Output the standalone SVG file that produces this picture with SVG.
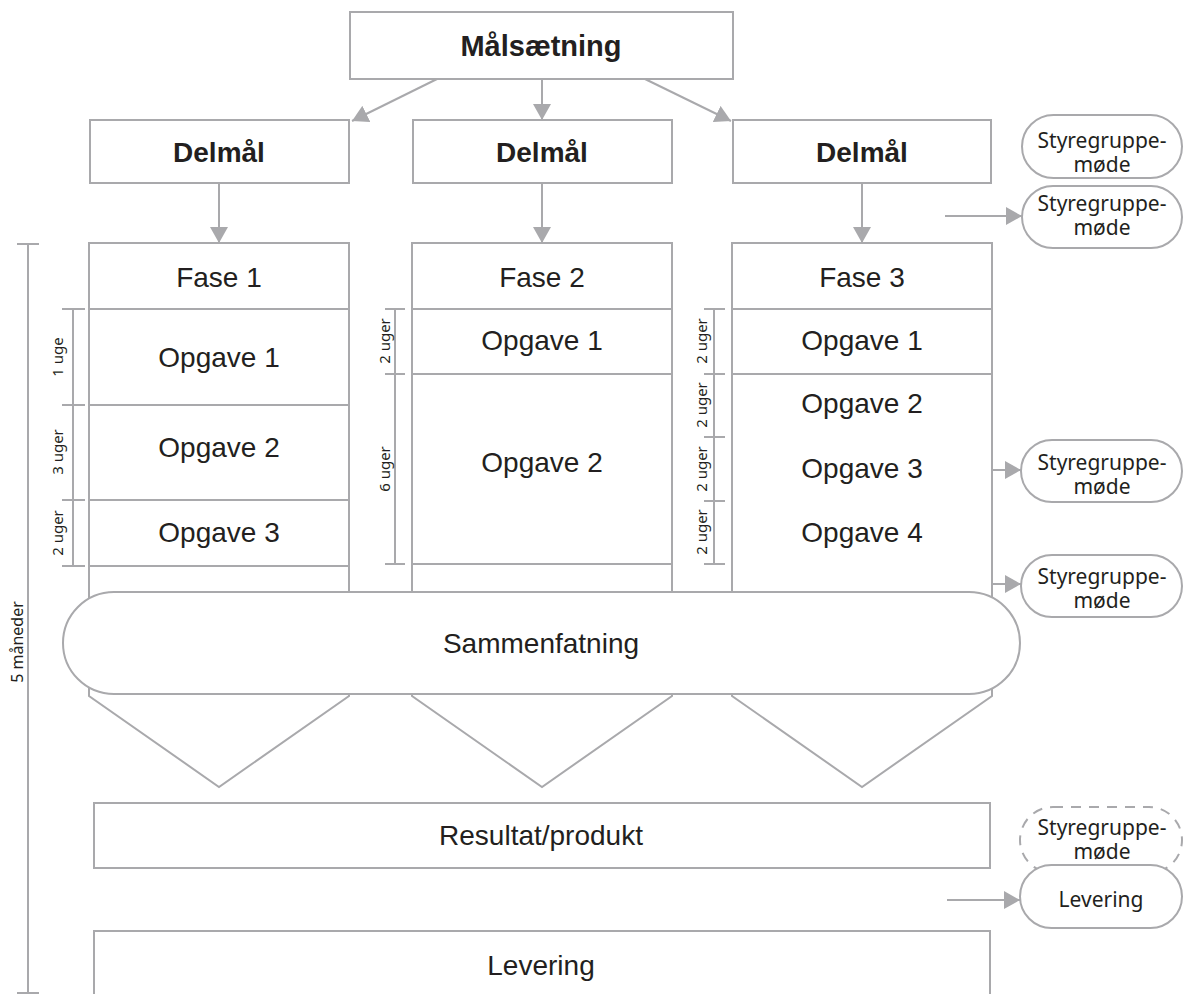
<svg xmlns="http://www.w3.org/2000/svg" width="1184" height="994" viewBox="0 0 1184 994">
  <style>
    .box { fill: #ffffff; stroke: #a9a9ac; stroke-width: 2; }
    .dash { fill: #ffffff; stroke: #a9a9ac; stroke-width: 2; stroke-dasharray: 10 8; }
    .ln { fill: none; stroke: #a9a9ac; stroke-width: 2; }
    .arr { fill: none; stroke: #a9a9ac; stroke-width: 2; marker-end: url(#head); }
    .t { font-family: "Liberation Sans", Arial, sans-serif; font-size: 28px; fill: #231f20; text-anchor: middle; }
    .b { font-weight: bold; }
    .s { font-family: "Noto Sans", "Open Sans", sans-serif; font-size: 21px; fill: #231f20; text-anchor: middle; }
    .d { font-family: "Noto Sans", "Open Sans", sans-serif; font-size: 15px; fill: #231f20; text-anchor: middle; }
  </style>
  <defs>
    <marker id="head" markerUnits="userSpaceOnUse" markerWidth="18" markerHeight="18" refX="16" refY="9" orient="auto">
      <path d="M0,0 L16,9 L0,18 Z" fill="#a9a9ac"/>
    </marker>
  </defs>
  <rect width="1184" height="994" fill="#ffffff"/>

  <!-- phase columns with funnel bottoms -->
  <g id="fase1">
    <path class="box" d="M89,243 H349 V696 L219,787 L89,696 Z"/>
    <path class="ln" d="M89,309 H349 M89,405 H349 M89,500 H349 M89,566 H349"/>
    <text class="t" x="219" y="287">Fase 1</text>
    <text class="t" x="219" y="367">Opgave 1</text>
    <text class="t" x="219" y="457">Opgave 2</text>
    <text class="t" x="219" y="542">Opgave 3</text>
  </g>
  <g id="fase2">
    <path class="box" d="M412,243 H672 V696 L542,787 L412,696 Z"/>
    <path class="ln" d="M412,309 H672 M412,374 H672 M412,564 H672"/>
    <text class="t" x="542" y="287">Fase 2</text>
    <text class="t" x="542" y="350">Opgave 1</text>
    <text class="t" x="542" y="472">Opgave 2</text>
  </g>
  <g id="fase3">
    <path class="box" d="M732,243 H992 V696 L862,787 L732,696 Z"/>
    <path class="ln" d="M732,309 H992 M732,374 H992"/>
    <text class="t" x="862" y="287">Fase 3</text>
    <text class="t" x="862" y="350">Opgave 1</text>
    <text class="t" x="862" y="413">Opgave 2</text>
    <text class="t" x="862" y="478">Opgave 3</text>
    <text class="t" x="862" y="542">Opgave 4</text>
  </g>

  <!-- duration scales -->
  <g id="dur-fase1">
    <path class="ln" d="M73,309 V566 M62,309 H85 M62,405 H85 M62,500 H85 M62,566 H85"/>
    <text class="d" transform="translate(63,357) rotate(-90)">1 uge</text>
    <text class="d" transform="translate(63,452) rotate(-90)">3 uger</text>
    <text class="d" transform="translate(63,533) rotate(-90)">2 uger</text>
  </g>
  <g id="dur-fase2">
    <path class="ln" d="M395,309 V564 M385,309 H405 M385,374 H405 M385,564 H405"/>
    <text class="d" transform="translate(390,341) rotate(-90)">2 uger</text>
    <text class="d" transform="translate(390,469) rotate(-90)">6 uger</text>
  </g>
  <g id="dur-fase3">
    <path class="ln" d="M714,309 V564 M704,309 H725 M704,374 H725 M704,437 H725 M704,501 H725 M704,564 H725"/>
    <text class="d" transform="translate(707,341) rotate(-90)">2 uger</text>
    <text class="d" transform="translate(707,405) rotate(-90)">2 uger</text>
    <text class="d" transform="translate(707,469) rotate(-90)">2 uger</text>
    <text class="d" transform="translate(707,532) rotate(-90)">2 uger</text>
  </g>
  <g id="dur-total">
    <path class="ln" d="M28,244 V993 M17,244 H39 M17,993 H39"/>
    <text class="d" style="font-size:16px" transform="translate(23,642) rotate(-90)">5 måneder</text>
  </g>

  <g id="maalsaetning">
    <rect class="box" x="350" y="12" width="383" height="67"/>
    <text class="t b" x="541" y="56" style="font-size:29px">Målsætning</text>
  </g>
  <g id="delmaal1">
    <rect class="box" x="90" y="120" width="259" height="63"/>
    <text class="t b" x="219" y="162">Delmål</text>
  </g>
  <g id="delmaal2">
    <rect class="box" x="413" y="120" width="259" height="63"/>
    <text class="t b" x="542" y="162">Delmål</text>
  </g>
  <g id="delmaal3">
    <rect class="box" x="733" y="120" width="258" height="63"/>
    <text class="t b" x="862" y="162">Delmål</text>
  </g>

  <g id="sammenfatning">
    <rect class="box" x="63" y="592" width="957" height="102" rx="51" ry="51"/>
    <text class="t" x="541" y="653">Sammenfatning</text>
  </g>
  <g id="resultat">
    <rect class="box" x="94" y="803" width="896" height="65"/>
    <text class="t" x="541" y="845">Resultat/produkt</text>
  </g>
  <g id="levering">
    <rect class="box" x="94" y="931" width="896" height="90"/>
    <text class="t" x="541" y="975">Levering</text>
  </g>

  <!-- steering group meetings -->
  <g id="styre1">
    <rect class="box" x="1022" y="115" width="160" height="63" rx="31.5"/>
    <text class="s" x="1102" y="148">Styregruppe-</text>
    <text class="s" x="1102" y="172">møde</text>
  </g>
  <g id="styre2">
    <rect class="box" x="1022" y="186" width="160" height="62" rx="31"/>
    <text class="s" x="1102" y="211">Styregruppe-</text>
    <text class="s" x="1102" y="235">møde</text>
  </g>
  <g id="styre3">
    <rect class="box" x="1021" y="440" width="161" height="62" rx="31"/>
    <text class="s" x="1102" y="470">Styregruppe-</text>
    <text class="s" x="1102" y="494">møde</text>
  </g>
  <g id="styre4">
    <rect class="box" x="1021" y="555" width="161" height="62" rx="31"/>
    <text class="s" x="1102" y="584">Styregruppe-</text>
    <text class="s" x="1102" y="608">møde</text>
  </g>
  <g id="styre5">
    <rect class="dash" x="1020" y="807" width="162" height="66" rx="33"/>
    <text class="s" x="1102" y="835">Styregruppe-</text>
    <text class="s" x="1102" y="859">møde</text>
  </g>
  <g id="levering-pill">
    <rect class="box" x="1020" y="865" width="162" height="63" rx="31.5"/>
    <text class="s" x="1101" y="907">Levering</text>
  </g>

  <g id="connectors">
    <path class="arr" d="M437,79 L352,121"/>
    <path class="arr" d="M542,79 L542,120"/>
    <path class="arr" d="M645,79 L731,121"/>
    <path class="arr" d="M219,183 L219,243"/>
    <path class="arr" d="M542,183 L542,243"/>
    <path class="arr" d="M862,183 L862,243"/>
    <path class="arr" d="M945,216 L1022,216"/>
    <path class="arr" d="M993,470 L1021,470"/>
    <path class="arr" d="M993,584 L1021,584"/>
    <path class="arr" d="M947,900 L1020,900"/>
  </g>
</svg>
